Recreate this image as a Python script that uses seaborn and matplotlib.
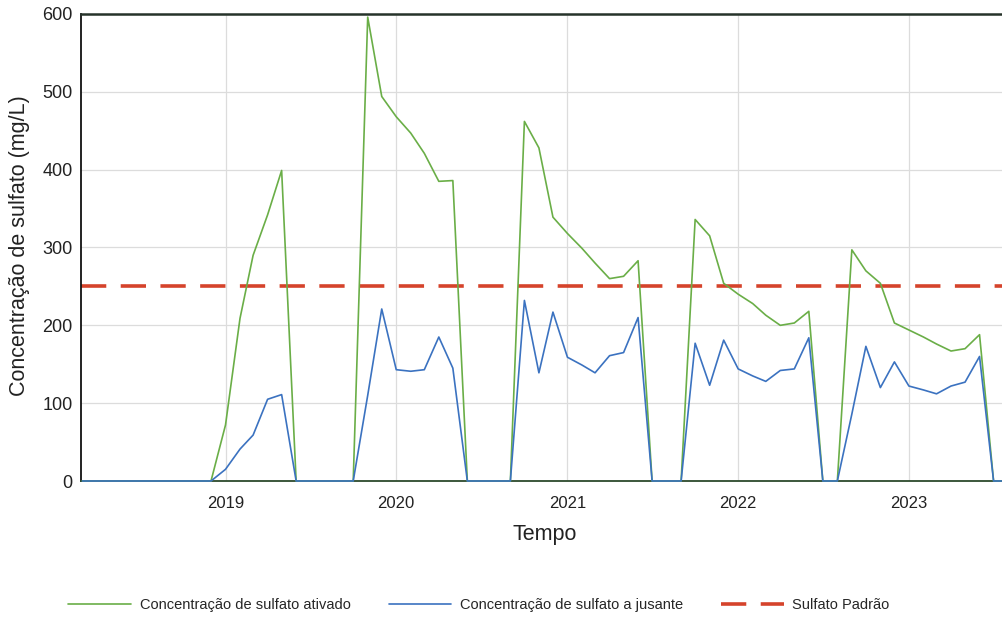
import numpy as np
import pandas as pd
import seaborn as sns
import matplotlib.pyplot as plt
import matplotlib.dates as mdates
from matplotlib.ticker import MultipleLocator

# monthly series, Mar 2018 .. Aug 2023
start_month = '2018-03-01'
ativado = [
    0, 0, 0, 0, 0, 0, 0, 0, 0, 0,                           # 2018 Mar-Dec
    72, 209, 290, 342, 399, 0, 0, 0, 0, 0, 596, 494,        # 2019
    468, 447, 421, 385, 386, 0, 0, 0, 0, 462, 428, 339,     # 2020
    318, 299, 280, 260, 263, 283, 0, 0, 0, 336, 315, 254,   # 2021
    240, 228, 213, 200, 203, 218, 0, 0, 297, 270, 254, 203, # 2022
    194, 185, 176, 167, 170, 188, 0, 0,                     # 2023 Jan-Aug
]
jusante = [
    0, 0, 0, 0, 0, 0, 0, 0, 0, 0,
    15, 41, 59, 105, 111, 0, 0, 0, 0, 0, 110, 221,
    143, 141, 143, 185, 145, 0, 0, 0, 0, 232, 139, 217,
    159, 149, 139, 161, 165, 210, 0, 0, 0, 177, 123, 181,
    144, 135, 128, 142, 144, 184, 0, 0, 86, 173, 120, 153,
    122, 117, 112, 122, 127, 160, 0, 0,
]
sulfato_padrao = 250

serie_labels = ['Concentração de sulfato ativado', 'Concentração de sulfato a jusante']
padrao_label = 'Sulfato Padrão'
colors = ['#6aae47', '#3b72c0']

datas = pd.date_range(start_month, periods=len(ativado), freq='MS')
df = pd.DataFrame({'Tempo': list(datas) * 2,
                   'valor': ativado + jusante,
                   'serie': [serie_labels[0]] * len(ativado) + [serie_labels[1]] * len(jusante)})

sns.set_style('white')
plt.rcParams['font.family'] = ['Liberation Sans', 'DejaVu Sans']

fig = plt.figure(figsize=(10.02, 6.18), dpi=100)
ax = fig.add_axes([80.5 / 1002, 1 - 481 / 618, (1002 - 80.5) / 1002, 467 / 618])

sns.lineplot(data=df, x='Tempo', y='valor', hue='serie', palette=colors,
             linewidth=1.2, ax=ax, legend=False)
ax.axhline(sulfato_padrao, color='#d5432b', linewidth=2.6, dashes=(7, 4), label=padrao_label)

# lines sit on top of the bottom spine like in the original
for ln in ax.get_lines()[:2]:
    ln.set_zorder(3)
    ln.set_clip_on(False)

ax.set_xlim(pd.Timestamp('2018-02-25'), pd.Timestamp('2023-07-19'))
ax.set_ylim(0, 600)
ax.xaxis.set_major_locator(mdates.YearLocator())
ax.xaxis.set_major_formatter(mdates.DateFormatter('%Y'))
ax.yaxis.set_major_locator(MultipleLocator(100))
ax.yaxis.set_minor_locator(MultipleLocator(50))

ax.grid(True, which='major', color='#dcdcdc', linewidth=0.9)
ax.set_axisbelow(True)

ax.spines['right'].set_visible(False)
ax.spines['left'].set_color('#111111')
ax.spines['left'].set_linewidth(1.3)
ax.spines['bottom'].set_color('#2c4a2c')
ax.spines['bottom'].set_linewidth(1.3)
ax.spines['top'].set_color('#26332a')
ax.spines['top'].set_linewidth(1.8)

ax.tick_params(axis='y', which='major', direction='inout', length=7, width=1.1,
               color='#111111', labelsize=13, labelcolor='#222222', pad=2)
ax.tick_params(axis='y', which='minor', direction='inout', length=5, width=1.1, color='#111111')
ax.tick_params(axis='x', which='major', direction='inout', length=6, width=1.1,
               color='#111111', labelsize=12, labelcolor='#222222', pad=8)

ax.set_xlabel('Tempo', fontsize=15.5, color='#222222')
ax.set_ylabel('Concentração de sulfato (mg/L)', fontsize=15.5, color='#222222')
ax.xaxis.set_label_coords(0.504, -0.092)
ax.yaxis.set_label_coords(-0.055, 0.503)

handles = ax.get_lines()[:3]
fig.legend(handles, serie_labels + [padrao_label], loc='center', ncol=3,
           bbox_to_anchor=(479 / 1002, 1 - 605 / 618), frameon=False,
           fontsize=10.5, handlelength=4.3, handletextpad=0.6, columnspacing=2.6)

fig.savefig('out.png', dpi=100)
